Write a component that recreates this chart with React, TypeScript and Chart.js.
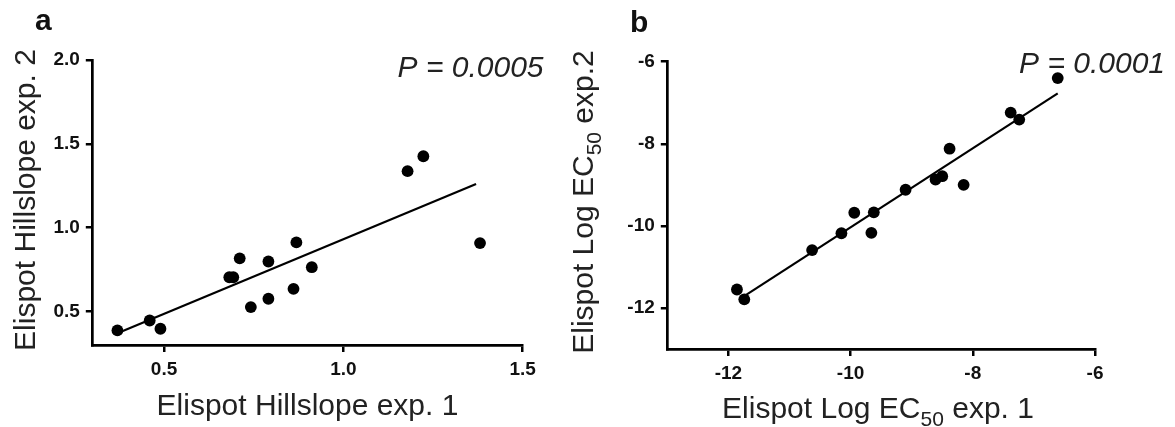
import React, { useEffect, useRef } from 'react';
import { Chart, registerables } from 'chart.js';
Chart.register(...registerables);

const FONT = '"Liberation Sans", Arial, Helvetica, sans-serif';

// Panel a: Hillslope
const hillExp1 = [0.37, 0.46, 0.49, 0.682, 0.693, 0.711, 0.742, 0.791, 0.791, 0.861, 0.869, 0.912, 1.179, 1.223, 1.381];
const hillExp2 = [0.387, 0.446, 0.397, 0.704, 0.704, 0.817, 0.526, 0.798, 0.576, 0.635, 0.912, 0.764, 1.337, 1.426, 0.908];
const hillFitX = [0.37, 1.37];
const hillFitY = [0.37, 1.26];
const hillXTicks = [0.5, 1.0, 1.5];
const hillYTicks = [0.5, 1.0, 1.5, 2.0];

// Panel b: Log EC50
const ec50Exp1 = [-11.86, -11.74, -10.63, -10.15, -9.94, -9.62, -9.66, -9.1, -8.61, -8.5, -8.38, -8.15, -7.38, -7.24, -6.61];
const ec50Exp2 = [-11.55, -11.79, -10.59, -10.18, -9.68, -9.67, -10.17, -9.12, -8.87, -8.79, -8.12, -9.0, -7.24, -7.41, -6.4];
const ec50FitX = [-11.71, -6.61];
const ec50FitY = [-11.68, -6.77];
const ec50Ticks = [-12, -10, -8, -6];

type Part = { text: string; sub?: boolean };

function drawParts(ctx: CanvasRenderingContext2D, parts: Part[], x: number, y: number, size: number, align: 'left' | 'center') {
  const subSize = Math.round(size * 0.7);
  let w = 0;
  const widths: number[] = [];
  for (const p of parts) {
    ctx.font = `${p.sub ? subSize : size}px ${FONT}`;
    const m = ctx.measureText(p.text).width;
    widths.push(m);
    w += m;
  }
  let cx = align === 'center' ? x - w / 2 : x;
  ctx.textAlign = 'left';
  ctx.textBaseline = 'alphabetic';
  parts.forEach((p, i) => {
    ctx.font = `${p.sub ? subSize : size}px ${FONT}`;
    ctx.fillText(p.text, cx, y + (p.sub ? size * 0.24 : 0));
    cx += widths[i];
  });
}

type Annot = {
  panel: string; panelX: number; panelY: number;
  p: string; pX: number; pY: number;
  xTitle: Part[]; xTitleX: number; xTitleY: number;
  yTitle: Part[]; yTitleX: number; yTitleY: number;
};

function annotPlugin(a: Annot) {
  return {
    id: 'annot',
    afterDraw(chart: any) {
      const ctx: CanvasRenderingContext2D = chart.ctx;
      ctx.save();
      ctx.fillStyle = '#111';
      ctx.font = `bold 30px ${FONT}`;
      ctx.textAlign = 'left';
      ctx.textBaseline = 'alphabetic';
      ctx.fillText(a.panel, a.panelX, a.panelY);
      ctx.fillStyle = '#222';
      ctx.font = `italic 30px ${FONT}`;
      ctx.textAlign = 'right';
      ctx.fillText(a.p, a.pX, a.pY);
      drawParts(ctx, a.xTitle, a.xTitleX, a.xTitleY, 30, 'center');
      ctx.translate(a.yTitleX, a.yTitleY);
      ctx.rotate(-Math.PI / 2);
      drawParts(ctx, a.yTitle, 0, 0, 30, 'center');
      ctx.restore();
    },
  };
}

function makeConfig(o: {
  xs: number[]; ys: number[]; fx: number[]; fy: number[];
  xMin: number; xMax: number; yMin: number; yMax: number;
  xTicks: number[]; yTicks: number[]; fmt: (v: number) => string;
  padTop: number; padRight: number; yWidth: number; xHeight: number; annot: Annot;
}) {
  const tickFont = { family: FONT, size: 19, weight: 'bold' as const };
  return {
    type: 'scatter' as const,
    data: {
      datasets: [
        {
          type: 'line' as const,
          data: o.fx.map((x, i) => ({ x, y: o.fy[i] })),
          borderColor: '#000',
          borderWidth: 2.2,
          pointRadius: 0,
          fill: false,
          order: 2,
        },
        {
          type: 'scatter' as const,
          data: o.xs.map((x, i) => ({ x, y: o.ys[i] })),
          backgroundColor: '#000',
          borderColor: '#000',
          borderWidth: 0,
          pointRadius: 5.9,
          order: 1,
        },
      ],
    },
    options: {
      responsive: false,
      animation: false as const,
      layout: { padding: { top: o.padTop, right: o.padRight, left: 0, bottom: 0 } },
      plugins: { legend: { display: false }, tooltip: { enabled: false }, title: { display: false } },
      scales: {
        x: {
          type: 'linear' as const,
          min: o.xMin, max: o.xMax,
          afterFit: (s: any) => { s.height = o.xHeight; },
          afterBuildTicks: (s: any) => { s.ticks = o.xTicks.map((v) => ({ value: v })); },
          ticks: { color: '#111', font: tickFont, padding: 6, callback: (v: any) => o.fmt(Number(v)), maxRotation: 0, autoSkip: false },
          grid: { drawOnChartArea: false, drawTicks: true, tickLength: 7, color: '#000', lineWidth: 2.5 },
          border: { display: true, color: '#000', width: 2.7 },
        },
        y: {
          type: 'linear' as const,
          min: o.yMin, max: o.yMax,
          afterFit: (s: any) => { s.width = o.yWidth; },
          afterBuildTicks: (s: any) => { s.ticks = o.yTicks.map((v) => ({ value: v })); },
          ticks: { color: '#111', font: tickFont, padding: 6, callback: (v: any) => o.fmt(Number(v)), autoSkip: false },
          grid: { drawOnChartArea: false, drawTicks: true, tickLength: 6.5, color: '#000', lineWidth: 2.5 },
          border: { display: true, color: '#000', width: 2.7 },
        },
      },
    },
    plugins: [annotPlugin(o.annot)],
  };
}

export default function App() {
  const refA = useRef<HTMLCanvasElement>(null);
  const refB = useRef<HTMLCanvasElement>(null);
  useEffect(() => {
    const cfgA = makeConfig({
      xs: hillExp1, ys: hillExp2, fx: hillFitX, fy: hillFitY,
      xMin: 0.3, xMax: 1.5, yMin: 0.3, yMax: 2.0,
      xTicks: hillXTicks, yTicks: hillYTicks, fmt: (v) => v.toFixed(1),
      padTop: 60, padRight: 560 - 522.7, yWidth: 92.3, xHeight: 427 - 345,
      annot: {
        panel: 'a', panelX: 35, panelY: 30,
        p: 'P = 0.0005', pX: 543.5, pY: 76.7,
        xTitle: [{ text: 'Elispot Hillslope exp. 1' }], xTitleX: 307.5, xTitleY: 415,
        yTitle: [{ text: 'Elispot Hillslope exp. 2' }], yTitleX: 35, yTitleY: 200,
      },
    });
    const cfgB = makeConfig({
      xs: ec50Exp1, ys: ec50Exp2, fx: ec50FitX, fy: ec50FitY,
      xMin: -13, xMax: -6, yMin: -13, yMax: -6,
      xTicks: ec50Ticks, yTicks: ec50Ticks, fmt: (v) => String(v),
      padTop: 61.7, padRight: 615 - 535, yWidth: 107.3, xHeight: 427 - 349,
      annot: {
        panel: 'b', panelX: 70, panelY: 32.3,
        p: 'P = 0.0001', pX: 605, pY: 72.7,
        xTitle: [{ text: 'Elispot Log EC' }, { text: '50', sub: true }, { text: ' exp. 1' }], xTitleX: 318, xTitleY: 418.3,
        yTitle: [{ text: 'Elispot Log EC' }, { text: '50', sub: true }, { text: ' exp.2' }], yTitleX: 33.3, yTitleY: 202,
      },
    });
    const a = new Chart(refA.current as HTMLCanvasElement, cfgA as any);
    const b = new Chart(refB.current as HTMLCanvasElement, cfgB as any);
    return () => { a.destroy(); b.destroy(); };
  }, []);
  return (
    <div style={{ position: 'absolute', left: 0, top: 0, width: 1175, height: 427, background: '#fff' }}>
      <canvas ref={refA} width={560} height={427} style={{ position: 'absolute', left: 0, top: 0, width: 560, height: 427 }} />
      <canvas ref={refB} width={615} height={427} style={{ position: 'absolute', left: 560, top: 0, width: 615, height: 427 }} />
    </div>
  );
}
